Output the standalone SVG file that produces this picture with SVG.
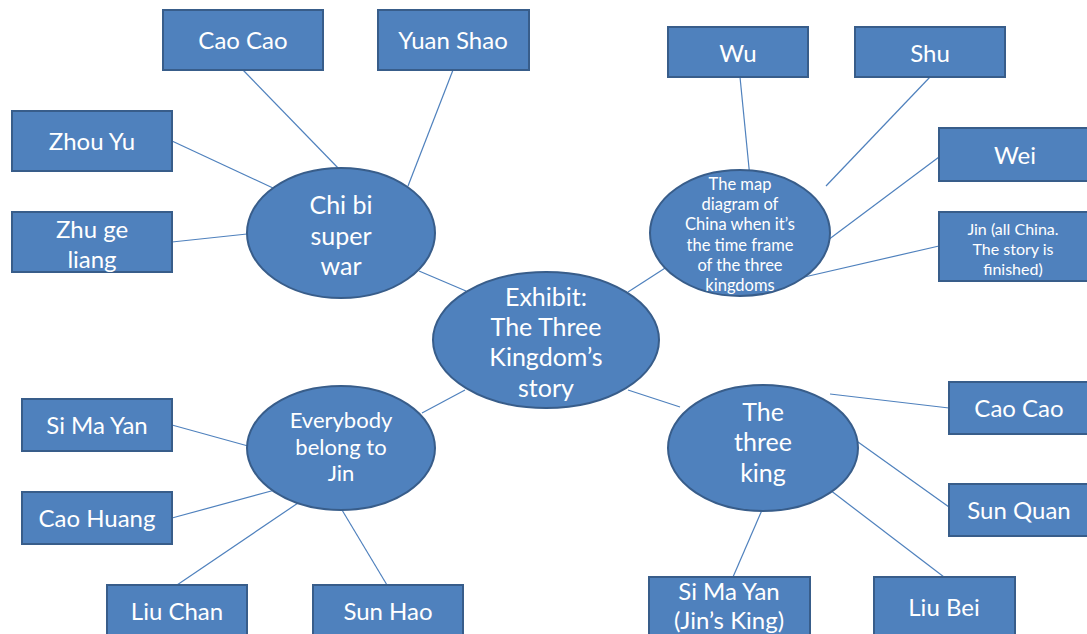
<svg xmlns="http://www.w3.org/2000/svg" width="1087" height="634" viewBox="0 0 1087 634">
  <style>
    .box { fill: #4F81BD; stroke: #385D8A; stroke-width: 2; }
    .oval { fill: #4F81BD; stroke: #385D8A; stroke-width: 2; }
    .link { stroke: #4F81BD; stroke-width: 1.2; fill: none; }
    text { font-family: "Lato", "Open Sans", "Liberation Sans", sans-serif; fill: #FFFFFF; text-anchor: middle; dominant-baseline: central; }
    .lg { font-size: 25px; }
    .md { font-size: 24px; }
    .mo { font-size: 22px; }
    .sm { font-size: 16.5px; }
    .xs { font-size: 16px; }
  </style>
  <rect width="1087" height="634" fill="#FFFFFF"/>

  <g id="connectors">
    <line class="link" x1="243" y1="70" x2="340" y2="170"/>
    <line class="link" x1="453" y1="70" x2="408" y2="186"/>
    <line class="link" x1="172" y1="141" x2="273" y2="188"/>
    <line class="link" x1="172" y1="242" x2="247" y2="234"/>
    <line class="link" x1="419" y1="271" x2="466" y2="291"/>
    <line class="link" x1="628" y1="292" x2="690" y2="252"/>
    <line class="link" x1="740" y1="77" x2="750" y2="178"/>
    <line class="link" x1="930" y1="77" x2="826" y2="186"/>
    <line class="link" x1="939" y1="157" x2="828" y2="240"/>
    <line class="link" x1="939" y1="246" x2="800" y2="278"/>
    <line class="link" x1="465" y1="390" x2="422" y2="413"/>
    <line class="link" x1="628" y1="390" x2="680" y2="407"/>
    <line class="link" x1="172" y1="425" x2="248" y2="446"/>
    <line class="link" x1="172" y1="518" x2="275" y2="490"/>
    <line class="link" x1="177" y1="585" x2="298" y2="503"/>
    <line class="link" x1="387" y1="585" x2="342" y2="510"/>
    <line class="link" x1="949" y1="408" x2="830" y2="394"/>
    <line class="link" x1="949" y1="507" x2="858" y2="442"/>
    <line class="link" x1="733" y1="577" x2="762" y2="510"/>
    <line class="link" x1="944" y1="577" x2="830" y2="490"/>
  </g>

  <!-- hub -->
  <g id="hub">
    <ellipse class="oval" cx="546" cy="340" rx="113" ry="68"/>
    <text class="lg" x="546" y="296">Exhibit:</text>
    <text class="lg" x="546" y="326">The Three</text>
    <text class="lg" x="546" y="356">Kingdom’s</text>
    <text class="lg" x="546" y="387">story</text>
  </g>

  <!-- Chi bi branch -->
  <g id="chibi">
    <ellipse class="oval" cx="341" cy="233" rx="94" ry="65"/>
    <text class="lg" x="341" y="204">Chi bi</text>
    <text class="lg" x="341" y="235">super</text>
    <text class="lg" x="341" y="265">war</text>
  </g>
  <g id="chibi-caocao">
    <rect class="box" x="163" y="10" width="160" height="60"/>
    <text class="md" x="243" y="39">Cao Cao</text>
  </g>
  <g id="chibi-yuanshao">
    <rect class="box" x="378" y="10" width="151" height="60"/>
    <text class="md" x="453" y="39">Yuan Shao</text>
  </g>
  <g id="chibi-zhouyu">
    <rect class="box" x="12" y="111" width="160" height="60"/>
    <text class="md" x="92" y="140">Zhou Yu</text>
  </g>
  <g id="chibi-zhugeliang">
    <rect class="box" x="12" y="212" width="160" height="60"/>
    <text class="md" x="92" y="228">Zhu ge</text>
    <text class="md" x="92" y="258">liang</text>
  </g>

  <!-- Map branch -->
  <g id="map">
    <ellipse class="oval" cx="740" cy="233" rx="90" ry="63"/>
    <text class="sm" x="740" y="184">The map</text>
    <text class="sm" x="740" y="204">diagram of</text>
    <text class="sm" x="740" y="224">China when it’s</text>
    <text class="sm" x="740" y="245">the time frame</text>
    <text class="sm" x="740" y="265">of the three</text>
    <text class="sm" x="740" y="285">kingdoms</text>
  </g>
  <g id="map-wu">
    <rect class="box" x="668" y="27" width="140" height="50"/>
    <text class="md" x="738" y="52">Wu</text>
  </g>
  <g id="map-shu">
    <rect class="box" x="855" y="27" width="150" height="50"/>
    <text class="md" x="930" y="52">Shu</text>
  </g>
  <g id="map-wei">
    <rect class="box" x="939" y="128" width="152" height="53"/>
    <text class="md" x="1015" y="154">Wei</text>
  </g>
  <g id="map-jin">
    <rect class="box" x="939" y="212" width="152" height="69"/>
    <text class="xs" x="1013" y="228">Jin (all China.</text>
    <text class="xs" x="1013" y="248">The story is</text>
    <text class="xs" x="1013" y="268">finished)</text>
  </g>

  <!-- Jin branch -->
  <g id="jin">
    <ellipse class="oval" cx="341" cy="448" rx="94" ry="62"/>
    <text class="mo" x="341" y="419">Everybody</text>
    <text class="mo" x="341" y="446">belong to</text>
    <text class="mo" x="341" y="472">Jin</text>
  </g>
  <g id="jin-simayan">
    <rect class="box" x="22" y="399" width="150" height="52"/>
    <text class="md" x="97" y="424">Si Ma Yan</text>
  </g>
  <g id="jin-caohuang">
    <rect class="box" x="22" y="492" width="150" height="52"/>
    <text class="md" x="97" y="517">Cao Huang</text>
  </g>
  <g id="jin-liuchan">
    <rect class="box" x="107" y="585" width="140" height="60"/>
    <text class="md" x="177" y="610">Liu Chan</text>
  </g>
  <g id="jin-sunhao">
    <rect class="box" x="313" y="585" width="150" height="60"/>
    <text class="md" x="388" y="610">Sun Hao</text>
  </g>

  <!-- Kings branch -->
  <g id="kings">
    <ellipse class="oval" cx="763" cy="448" rx="95" ry="63"/>
    <text class="lg" x="763" y="411">The</text>
    <text class="lg" x="763" y="441">three</text>
    <text class="lg" x="763" y="472">king</text>
  </g>
  <g id="kings-caocao">
    <rect class="box" x="949" y="382" width="142" height="52"/>
    <text class="md" x="1019" y="407">Cao Cao</text>
  </g>
  <g id="kings-sunquan">
    <rect class="box" x="949" y="484" width="142" height="52"/>
    <text class="md" x="1019" y="509">Sun Quan</text>
  </g>
  <g id="kings-simayan">
    <rect class="box" x="649" y="577" width="161" height="65"/>
    <text class="md" x="729" y="590">Si Ma Yan</text>
    <text class="md" x="729" y="619">(Jin’s King)</text>
  </g>
  <g id="kings-liubei">
    <rect class="box" x="874" y="577" width="141" height="65"/>
    <text class="md" x="944" y="606">Liu Bei</text>
  </g>
</svg>
